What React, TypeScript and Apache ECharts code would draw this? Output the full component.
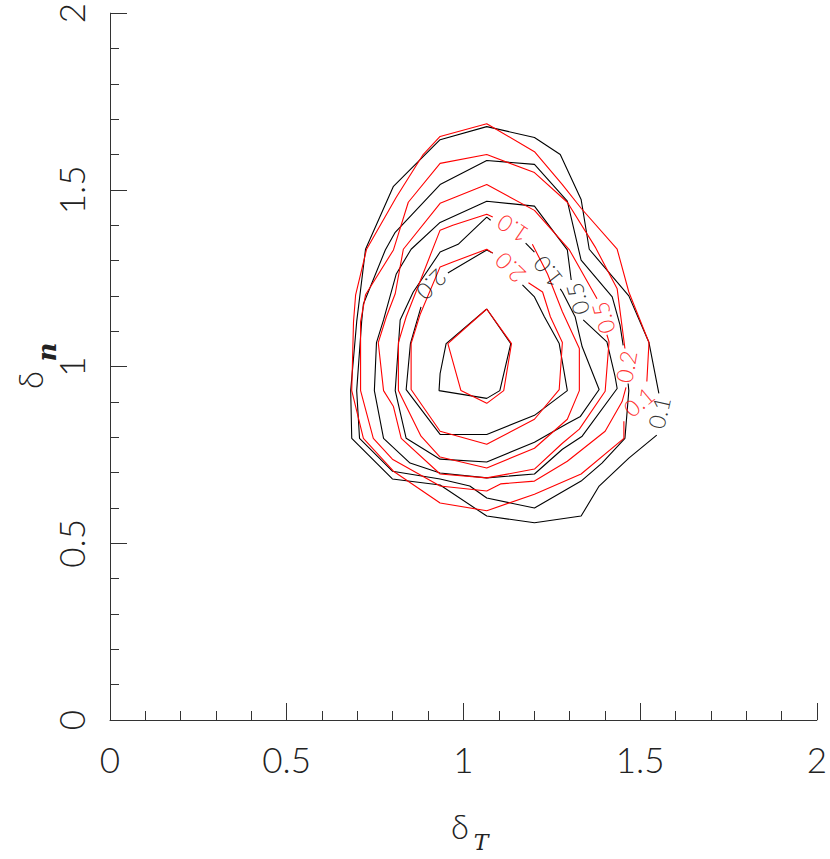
import React, { useEffect, useRef } from "react";
import * as echarts from "echarts";

type Pt = [number, number];

// Axis titles (delta with subscripts)
const X_TITLE = ["δ", "T"];
const Y_TITLE = ["δ", "n"];

// ---- Black contours (levels 0.1, 0.2, 0.5, 1.0, 2.0, inner) : segments of [δT, δn]
const B01: Pt[][] = [[
  [1.553, 0.924], [1.525, 1.068], [1.468, 1.2], [1.356, 1.332], [1.333, 1.473], [1.274, 1.6],
  [1.201, 1.648], [1.066, 1.679], [0.934, 1.642], [0.802, 1.51], [0.723, 1.332], [0.698, 1.127],
  [0.681, 0.932], [0.684, 0.797], [0.799, 0.682], [0.934, 0.665], [1.066, 0.577], [1.201, 0.558],
  [1.333, 0.577], [1.384, 0.662], [1.468, 0.741], [1.547, 0.806],
]];
const B02: Pt[][] = [[
  [1.452, 1.06], [1.443, 1.118], [1.421, 1.197], [1.333, 1.301], [1.294, 1.468], [1.201, 1.572],
  [1.066, 1.583], [0.934, 1.515], [0.807, 1.38], [0.779, 1.33], [0.717, 1.177], [0.712, 1.127],
  [0.698, 0.932], [0.706, 0.797], [0.799, 0.704], [0.934, 0.682], [1.018, 0.662], [1.066, 0.628],
  [1.201, 0.6], [1.333, 0.676], [1.392, 0.727], [1.457, 0.797], [1.468, 0.932], [1.466, 0.952],
]];
const B05: Pt[][] = [[
  [1.305, 1.245], [1.294, 1.33], [1.252, 1.386], [1.201, 1.454], [1.066, 1.468], [0.934, 1.408],
  [0.852, 1.332], [0.81, 1.262], [0.774, 1.132], [0.754, 1.068], [0.748, 0.932], [0.774, 0.797],
  [0.849, 0.727], [0.934, 0.699], [1.066, 0.685], [1.201, 0.696], [1.28, 0.766], [1.336, 0.803],
  [1.435, 0.938], [1.429, 0.972], [1.406, 1.07], [1.339, 1.132],
]];
const B10: Pt[][] = [
  [[1.201, 1.324], [1.176, 1.349]],
  [
    [1.077, 1.414], [1.066, 1.423], [0.985, 1.346], [0.934, 1.324], [0.858, 1.211], [0.821, 1.132],
    [0.807, 0.932], [0.838, 0.797], [0.934, 0.738], [1.066, 0.73], [1.201, 0.786], [1.294, 0.839],
    [1.331, 0.859], [1.384, 0.935], [1.336, 1.056], [1.316, 1.141], [1.28, 1.211], [1.274, 1.22],
  ],
];
const B20: Pt[][] = [
  [
    [0.88, 1.169], [0.85, 1.065], [0.838, 0.935], [0.934, 0.808], [1.066, 0.808], [1.201, 0.862],
    [1.294, 0.932], [1.271, 1.065], [1.229, 1.141], [1.201, 1.197], [1.167, 1.231],
  ],
  [[1.083, 1.321], [1.066, 1.33], [0.97, 1.273], [0.956, 1.265]],
];
const B50: Pt[][] = [[
  [1.066, 1.163], [0.951, 1.065], [0.934, 0.98], [0.931, 0.932], [1.066, 0.91], [1.103, 0.932],
  [1.134, 1.065], [1.066, 1.163],
]];

// ---- Red contours
const R01: Pt[][] = [[
  [1.519, 0.958], [1.525, 1.068], [1.468, 1.211], [1.435, 1.332], [1.333, 1.448], [1.28, 1.515],
  [1.201, 1.608], [1.066, 1.687], [0.934, 1.651], [0.886, 1.6], [0.81, 1.479], [0.726, 1.332],
  [0.695, 1.203], [0.689, 1.127], [0.684, 0.932], [0.717, 0.797], [0.802, 0.704], [0.934, 0.614],
  [1.066, 0.592], [1.201, 0.639], [1.333, 0.696], [1.454, 0.797], [1.454, 0.845],
]];
const R02: Pt[][] = [[
  [1.457, 1.051], [1.435, 1.22], [1.373, 1.338], [1.294, 1.465], [1.201, 1.549], [1.066, 1.6],
  [0.934, 1.575], [0.844, 1.465], [0.802, 1.33], [0.723, 1.203], [0.709, 1.127], [0.709, 0.932],
  [0.745, 0.797], [0.799, 0.738], [0.934, 0.662], [1.066, 0.648], [1.105, 0.668], [1.201, 0.676],
  [1.294, 0.732], [1.401, 0.817], [1.449, 0.901], [1.46, 0.941],
]];
const R05: Pt[][] = [[
  [1.378, 1.192], [1.3, 1.33], [1.201, 1.442], [1.066, 1.515], [0.934, 1.462], [0.83, 1.332],
  [0.807, 1.206], [0.782, 1.141], [0.759, 1.068], [0.774, 0.932], [0.802, 0.887], [0.824, 0.797],
  [0.934, 0.696], [1.066, 0.685], [1.201, 0.71], [1.28, 0.783], [1.328, 0.823], [1.401, 0.93],
  [1.412, 1.07], [1.406, 1.09],
]];
const R10: Pt[][] = [[
  [1.083, 1.423], [1.066, 1.431], [0.97, 1.4], [0.934, 1.386], [0.88, 1.248], [0.838, 1.141],
  [0.816, 1.068], [0.816, 0.932], [0.88, 0.803], [0.934, 0.744], [1.066, 0.713], [1.201, 0.769],
  [1.294, 0.851], [1.328, 0.932], [1.328, 1.051], [1.28, 1.155], [1.238, 1.262], [1.195, 1.346],
]];
const R20: Pt[][] = [[
  [1.083, 1.321], [1.066, 1.332], [0.97, 1.296], [0.934, 1.282], [0.878, 1.149], [0.852, 1.065],
  [0.852, 0.935], [0.934, 0.817], [1.066, 0.78], [1.201, 0.851], [1.271, 0.935], [1.28, 1.068],
  [1.246, 1.141], [1.224, 1.211], [1.184, 1.237],
]];
const R50: Pt[][] = [[
  [1.066, 1.163], [0.956, 1.065], [0.993, 0.932], [1.066, 0.896], [1.114, 0.932], [1.136, 1.065],
  [1.066, 1.163],
]];

// ---- Contour labels
const BLACK_LABEL_TEXT = ["0.1", "0.5", "1.0", "2.0"];
const BLACK_LABEL_POS: Pt[] = [[1.553, 0.87], [1.322, 1.192], [1.238, 1.268], [0.911, 1.231]];
const RED_LABEL_TEXT = ["0.1", "0.2", "0.5", "1.0", "2.0"];
const RED_LABEL_POS: Pt[] = [[1.496, 0.901], [1.46, 1.0], [1.395, 1.138], [1.139, 1.389], [1.131, 1.279]];

const BLACK_CONTOURS = [B01, B02, B05, B10, B20, B50];
const RED_CONTOURS = [R01, R02, R05, R10, R20, R50];

// label rotation (style), degrees
const BLACK_ROT = [77, 106, 128, -135];
const RED_ROT = [40, 80, 106, 146, 135];

const FONT = "Lato";
const BLACK = "#000000";
const RED = "#ff0000";

export default function App() {
  const ref = useRef<HTMLDivElement>(null);
  useEffect(() => {
    document.body.style.margin = "0";
    if (!ref.current) return;
    const chart = echarts.init(ref.current, undefined, { renderer: "svg" });

    const lineSeries = (contours: Pt[][][], color: string) =>
      contours.flatMap((segs) =>
        segs.map((seg) => ({
          type: "line",
          data: seg,
          symbol: "none",
          showSymbol: false,
          silent: true,
          lineStyle: { color, width: 1.1 },
          itemStyle: { color },
          z: color === RED ? 3 : 2,
        }))
      );

    const labelSeries = (texts: string[], pos: Pt[], rots: number[], color: string) => ({
      type: "scatter",
      symbolSize: 0.1,
      silent: true,
      itemStyle: { color: "transparent" },
      z: 5,
      data: texts.map((t, i) => ({
        name: t,
        value: pos[i],
        label: { rotate: rots[i] },
      })),
      label: {
        show: true,
        position: "inside",
        formatter: "{b}",
        color,
        fontSize: 23,
        fontFamily: FONT,
        fontWeight: 300,
      },
    });

    const axisCommon = {
      type: "value",
      min: 0,
      max: 2,
      interval: 0.5,
      axisLine: { show: true, lineStyle: { color: "#333", width: 1 } },
      axisTick: { show: true, inside: true, length: 17, lineStyle: { color: "#333", width: 1 } },
      minorTick: { show: true, splitNumber: 5, length: 9, lineStyle: { color: "#333", width: 1 } },
      splitLine: { show: false },
      minorSplitLine: { show: false },
    };

    chart.setOption({
      animation: false,
      backgroundColor: "#ffffff",
      grid: { left: 110, right: 9, top: 10, bottom: 139 },
      xAxis: {
        ...axisCommon,
        axisLabel: { fontSize: 35, margin: 21, color: "#222", fontFamily: FONT, fontWeight: 300 },
      },
      yAxis: {
        ...axisCommon,
        axisLabel: { fontSize: 35, margin: 22, rotate: 90, color: "#222", fontFamily: FONT, fontWeight: 300 },
      },
      series: [
        ...lineSeries(BLACK_CONTOURS, BLACK),
        ...lineSeries(RED_CONTOURS, RED),
        labelSeries(BLACK_LABEL_TEXT, BLACK_LABEL_POS, BLACK_ROT, BLACK),
        labelSeries(RED_LABEL_TEXT, RED_LABEL_POS, RED_ROT, RED),
      ],
      graphic: [
        {
          type: "text",
          x: 460,
          y: 826,
          style: { text: X_TITLE[0], fontSize: 33, fontFamily: FONT, fontWeight: 300, fill: "#222", textAlign: "center", textVerticalAlign: "middle" },
        },
        {
          type: "text",
          x: 481,
          y: 842,
          style: { text: X_TITLE[1], fontSize: 22, fontFamily: "DejaVu Serif", fontStyle: "italic", fill: "#222", textAlign: "center", textVerticalAlign: "middle" },
        },
        {
          type: "text",
          x: 30,
          y: 380,
          rotation: Math.PI / 2,
          style: { text: Y_TITLE[0], fontSize: 33, fontFamily: FONT, fontWeight: 300, fill: "#222", textAlign: "center", textVerticalAlign: "middle" },
        },
        {
          type: "text",
          x: 47,
          y: 352,
          rotation: Math.PI / 2,
          style: { text: Y_TITLE[1], fontSize: 26, fontFamily: "DejaVu Serif", fontStyle: "italic", fontWeight: "bold", fill: "#222", textAlign: "center", textVerticalAlign: "middle" },
        },
      ],
    });
    return () => chart.dispose();
  }, []);
  return <div ref={ref} style={{ width: 830, height: 859 }} />;
}
